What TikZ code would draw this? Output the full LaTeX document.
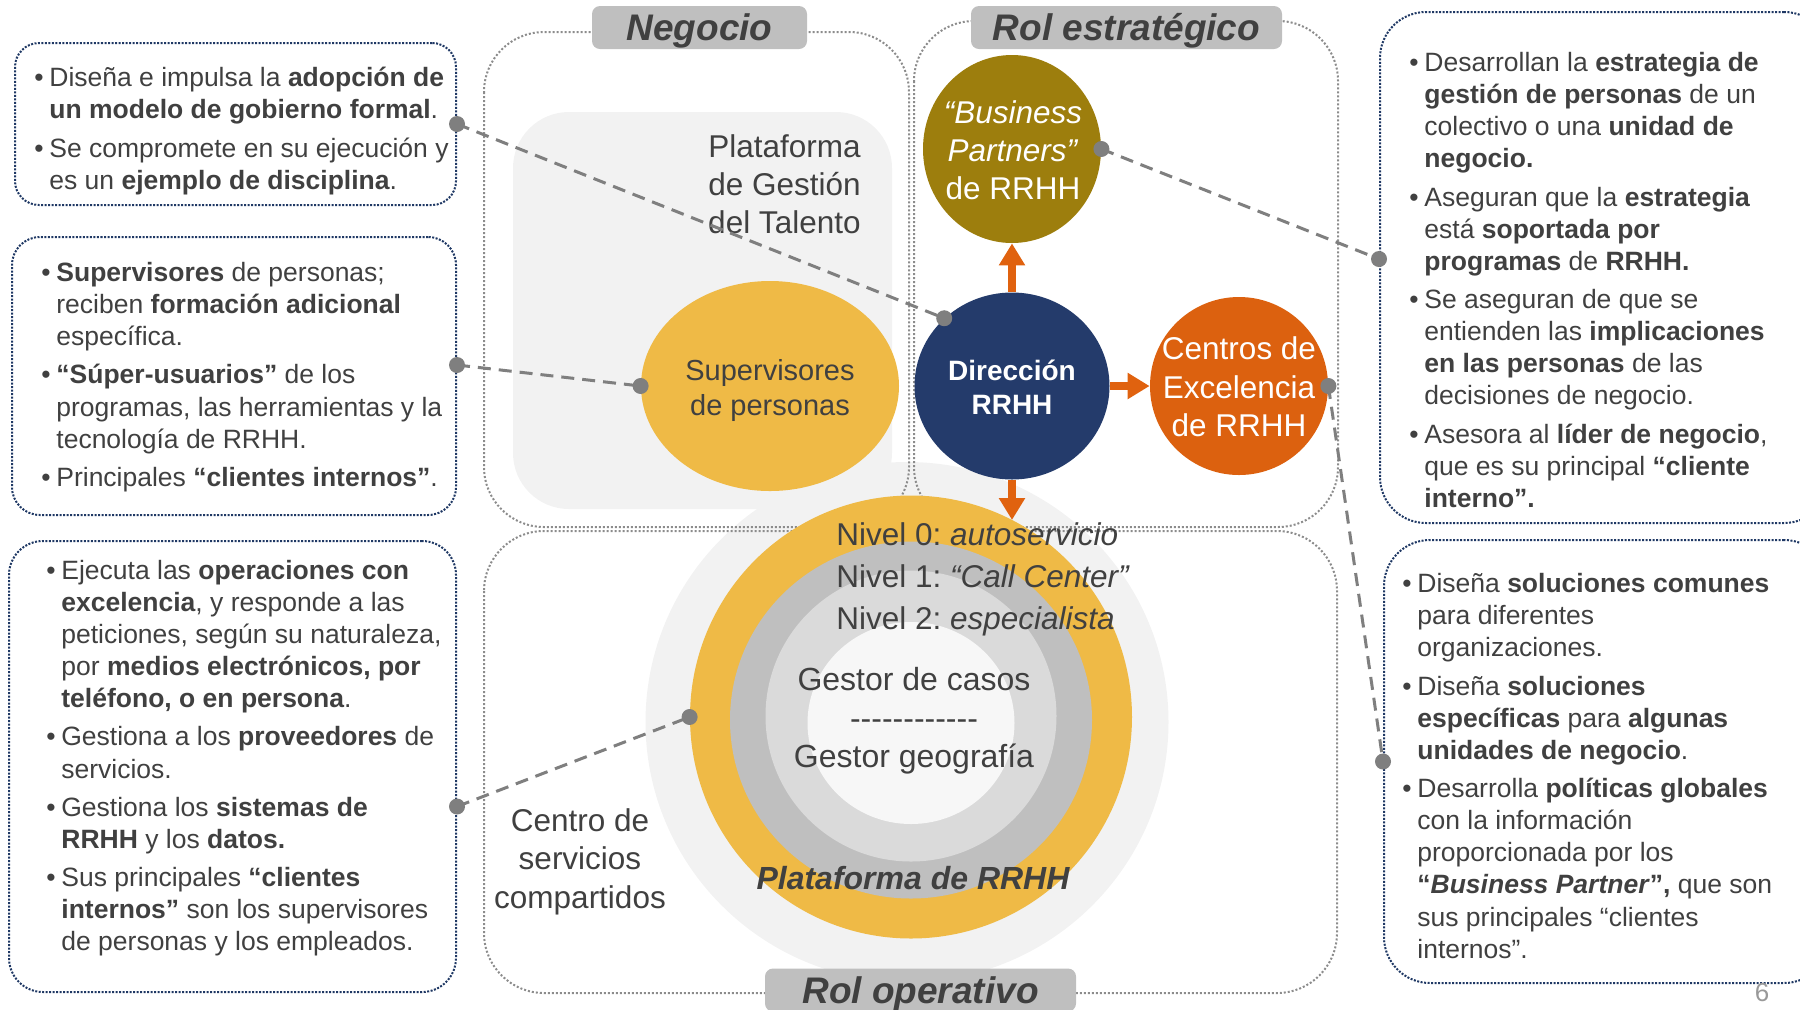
\documentclass[tikz,border=0pt]{standalone}
\usepackage{fontspec}
\setmainfont{Liberation Sans}
\usetikzlibrary{shapes.geometric,arrows.meta}
\definecolor{txt}{HTML}{404040}
\definecolor{navy}{HTML}{1F3864}
\definecolor{panelgray}{HTML}{8C8C8C}
\definecolor{lblgray}{HTML}{BFBFBF}
\definecolor{bglight}{HTML}{F2F2F2}
\definecolor{ringyellow}{HTML}{EFBA46}
\definecolor{ringgray}{HTML}{BFBFBF}
\definecolor{ringlight}{HTML}{DADADA}
\definecolor{ringcore}{HTML}{F7F7F7}
\definecolor{olive}{HTML}{9D7E0D}
\definecolor{dirnavy}{HTML}{243B6B}
\definecolor{coeorange}{HTML}{DC610F}
\definecolor{arroworange}{HTML}{E0620F}
\definecolor{conngray}{HTML}{7F7F7F}
\newcommand{\mybul}{\strut\makebox[7.5pt][l]{\textbullet}}
\newcommand{\myind}{\strut\hspace*{7.5pt}}
\newcommand{\hyp}{-\kern0pt}
\tikzset{
  panel/.style={draw=panelgray, line width=1pt, dash pattern=on 1pt off 1pt, rounded corners=30pt},
  infobox/.style={rectangle, draw=navy, line width=1pt, dash pattern=on 1pt off 0.75pt, inner sep=0pt},
  lbl/.style={rectangle, fill=lblgray, rounded corners=4pt, inner sep=0pt, text=txt, text height=15pt, text depth=2pt, font=\fontsize{18.5}{22}\selectfont\bfseries\itshape},
  body/.style={font=\fontsize{13.25}{16.07}\selectfont, text=txt, align=left, anchor=west, inner sep=0pt},
  big/.style={font=\fontsize{15.75}{19}\selectfont, text=txt, inner sep=0pt},
  blob/.style={ellipse, inner sep=0pt},
  conn/.style={draw=conngray, line width=1.5pt, dash pattern=on 6.5pt off 4pt},
  dotmark/.style={fill=conngray},
  oarrow/.style={draw=arroworange, line width=4pt, -{Triangle[width=12.5pt,length=11pt]}},
}
\begin{document}
\frenchspacing
\begin{tikzpicture}[x=0.5pt,y=-0.5pt]
\useasboundingbox (0,0) rectangle (1800,1009);
\clip (0,0) rectangle (1800,1009);

% light backgrounds
\fill[bglight, rounded corners=28pt] (513,112) rectangle (892,509);
\node[blob, fill=bglight, minimum width=261.5pt, minimum height=260pt] (halo) at (907,722) {};

% panels
\draw[panel] (484,32) rectangle (909,527);
\draw[panel] (914,21) rectangle (1338,527);
\draw[panel] (484,531) rectangle (1337,993);

% platform rings
\node[blob, fill=ringyellow, minimum width=221pt, minimum height=221.5pt] (ring) at (911,717) {};
\node[blob, fill=ringgray, minimum width=181pt, minimum height=178.5pt] (ring2) at (911,720) {};
\node[blob, fill=ringlight, minimum width=145.5pt, minimum height=145.5pt] (ring3) at (911,716) {};
\node[blob, fill=ringcore, minimum width=103.5pt, minimum height=101pt] (ring4) at (911,723) {};

% panel labels
\node[lbl, minimum width=107.5pt, minimum height=21.5pt] (lneg) at (699.5,27.5) {Negocio};
\node[lbl, minimum width=155.5pt, minimum height=21.5pt] (lest) at (1126.5,27.5) {Rol estratégico};
\node[lbl, minimum width=155.5pt, minimum height=21.5pt] (lop) at (920.5,990) {Rol operativo};

% central texts
\node[big, align=right, anchor=east] (plat) at (861,184) {Plataforma\\de Gestión\\del Talento};
\node[big, align=center] (csc) at (580,862) {\strut Centro de\\[0.25pt]servicios\\[0.25pt]compartidos\strut};
\node[big, align=left, anchor=west, font=\fontsize{15.75}{21}\selectfont] (niv) at (836,579)
  {\strut Nivel 0: \textit{autoservicio}\\\strut Nivel 1: \textit{“Call Center”}\\\strut Nivel 2: \textit{especialista}};
\node[big, align=center, font=\fontsize{16}{19.25}\selectfont] (gest) at (914,721.5)
  {\strut Gestor de casos\\\strut\hyp\hyp\hyp\hyp\hyp\hyp\hyp\hyp\hyp\hyp\hyp\hyp\\\strut Gestor geografía};
\node[big, font=\fontsize{16}{19}\selectfont\bfseries\itshape] (platr) at (913,878) {Plataforma de RRHH};

% actors (shapes)
\node[blob, fill=ringyellow, minimum width=129pt, minimum height=105pt] (sup) at (770,386) {};
\node[blob, fill=dirnavy, minimum width=97.5pt, minimum height=93.5pt] (dir) at (1012,386) {};
\node[blob, fill=olive, minimum width=89pt, minimum height=94pt] (bp) at (1012,149) {};
\node[blob, fill=coeorange, minimum width=89pt, minimum height=89pt] (coe) at (1239,386) {};
% actors (texts)
\node[inner sep=0pt, text=txt, align=center, font=\fontsize{14.5}{17.5}\selectfont] (supt) at (770,390.5) {\strut Supervisores\\de personas\strut};
\node[inner sep=0pt, text=white, align=center, font=\fontsize{14}{17}\selectfont\bfseries] (dirt) at (1012,391) {\strut Dirección\\RRHH\strut};
\node[inner sep=0pt, text=white, align=center, font=\fontsize{15.75}{19}\selectfont] (bpt) at (1013,153.5) {\strut\textit{“Business}\\\textit{Partners”}\\de RRHH\strut};
\node[inner sep=0pt, text=white, align=center, font=\fontsize{15.75}{19.25}\selectfont] (coet) at (1239,390.5) {\strut Centros de\\Excelencia\\de RRHH\strut};
\coordinate (ringtop) at (1012,520);

% orange arrows
\draw[oarrow] (dir) -- (bp);
\draw[oarrow] (dir) -- (coe);
\draw[oarrow] (dir) -- (ringtop);

% info boxes
\node[infobox, rounded corners=12pt, minimum width=220.5pt, minimum height=81pt] (lb1) at (235.5,124) {};
\node[infobox, rounded corners=14pt, minimum width=222pt, minimum height=139pt] (lb2) at (234,376) {};
\node[infobox, rounded corners=17pt, minimum width=223.5pt, minimum height=225.5pt] (lb3) at (232.5,766.5) {};
\node[infobox, rounded corners=23pt, minimum width=225pt, minimum height=255.5pt] (rb1) at (1605,267.5) {};
\node[infobox, rounded corners=23pt, minimum width=223pt, minimum height=221.5pt] (rb2) at (1607,761.5) {};

% box texts
\node[body] (t1) at (34,131.5) {%
\mybul Diseña e impulsa la \textbf{adopción de}\\
\myind\textbf{un modelo de gobierno formal}.\\[3pt]
\mybul Se compromete en su ejecución y\\
\myind es un \textbf{ejemplo de disciplina}.};

\node[body] (t2) at (41,377.5) {%
\mybul\textbf{Supervisores} de personas;\\
\myind reciben \textbf{formación adicional}\\
\myind específica.\\[3pt]
\mybul\textbf{“Súper-usuarios”} de los\\
\myind programas, las herramientas y la\\
\myind tecnología de RRHH.\\[3pt]
\mybul Principales \textbf{“clientes internos”}.};

\node[body] (t3) at (46,758.5) {%
\mybul Ejecuta las \textbf{operaciones con}\\
\myind\textbf{excelencia}, y responde a las\\
\myind peticiones, según su naturaleza,\\
\myind por \textbf{medios electrónicos, por}\\
\myind\textbf{teléfono, o en persona}.\\[3pt]
\mybul Gestiona a los \textbf{proveedores} de\\
\myind servicios.\\[3pt]
\mybul Gestiona los \textbf{sistemas de}\\
\myind\textbf{RRHH} y los \textbf{datos.}\\[3pt]
\mybul Sus principales \textbf{“clientes}\\
\myind\textbf{internos”} son los supervisores\\
\myind de personas y los empleados.};

\node[body] (t4) at (1409,283) {%
\mybul Desarrollan la \textbf{estrategia de}\\
\myind\textbf{gestión de personas} de un\\
\myind colectivo o una \textbf{unidad de}\\
\myind\textbf{negocio.}\\[3pt]
\mybul Aseguran que la \textbf{estrategia}\\
\myind está \textbf{soportada por}\\
\myind\textbf{programas} de \textbf{RRHH.}\\[3pt]
\mybul Se aseguran de que se\\
\myind entienden las \textbf{implicaciones}\\
\myind\textbf{en las personas} de las\\
\myind decisiones de negocio.\\[3pt]
\mybul Asesora al \textbf{líder de negocio},\\
\myind que es su principal \textbf{“cliente}\\
\myind\textbf{interno”.}};

\node[body] (t5) at (1402,769) {%
\mybul Diseña \textbf{soluciones comunes}\\
\myind para diferentes\\
\myind organizaciones.\\[3pt]
\mybul Diseña \textbf{soluciones}\\
\myind\textbf{específicas} para \textbf{algunas}\\
\myind\textbf{unidades de negocio}.\\[3pt]
\mybul Desarrolla \textbf{políticas globales}\\
\myind con la información\\
\myind proporcionada por los\\
\myind\textbf{“\textit{Business Partner}”,} que son\\
\myind sus principales “clientes\\
\myind internos”.};

\node[text=lblgray!80!black, font=\fontsize{13}{15}\selectfont, inner sep=0pt] (pnum) at (1762,993) {6};

% connector end points
\coordinate (p1) at (lb1.east);
\coordinate (p2) at ([yshift=5.5pt]lb2.east);
\coordinate (p3) at ([yshift=-20pt]lb3.east);
\coordinate (p4) at ([yshift=4.25pt]rb1.west);
\coordinate (p5) at (rb2.west);
\coordinate (q1) at (dir.135);
\coordinate (q2) at (sup.west);
\coordinate (q3) at (ring.west);
\coordinate (q4) at (bp.east);
\coordinate (q5) at (coe.east);

\draw[conn] (p1) -- (q1);
\draw[conn] (p2) -- (q2);
\draw[conn] (p3) -- (q3);
\draw[conn] (q4) -- (p4);
\draw[conn] (q5) -- (p5);
\foreach \p in {p1,p2,p3,p4,p5,q1,q2,q3,q4,q5}
  \fill[dotmark] (\p) circle[radius=4pt];
\end{tikzpicture}
\end{document}
